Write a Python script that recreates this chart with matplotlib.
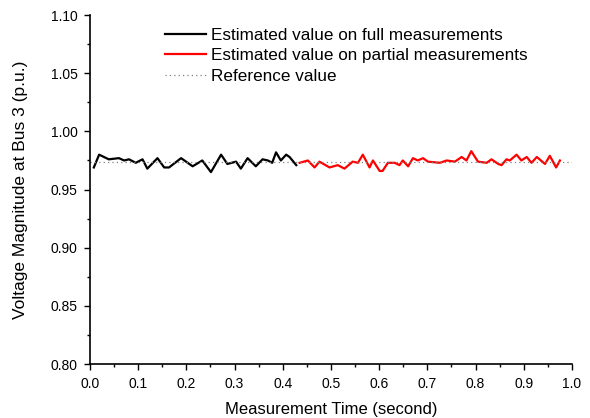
import matplotlib
matplotlib.use("Agg")
import matplotlib.pyplot as plt
from matplotlib.ticker import MultipleLocator, FormatStrFormatter

plt.rcParams["font.family"] = ["Liberation Sans", "DejaVu Sans"]

# estimated on full measurements
t_full = [0.008, 0.019, 0.039, 0.060, 0.071, 0.081, 0.095, 0.109, 0.119, 0.140,
          0.154, 0.164, 0.189, 0.213, 0.233, 0.251, 0.272, 0.285, 0.303, 0.313,
          0.327, 0.344, 0.358, 0.369, 0.378, 0.386, 0.396, 0.407, 0.414, 0.428]
v_full = [0.969, 0.980, 0.976, 0.977, 0.975, 0.976, 0.973, 0.976, 0.968, 0.977,
          0.969, 0.969, 0.977, 0.970, 0.975, 0.965, 0.980, 0.972, 0.974, 0.968,
          0.977, 0.970, 0.976, 0.975, 0.973, 0.982, 0.975, 0.980, 0.978, 0.971]

# estimated on partial measurements
t_part = [0.435, 0.452, 0.466, 0.476, 0.497, 0.514, 0.528, 0.545, 0.556, 0.566,
          0.580, 0.587, 0.601, 0.607, 0.618, 0.632, 0.642, 0.649, 0.660, 0.670,
          0.680, 0.691, 0.701, 0.726, 0.740, 0.757, 0.771, 0.781, 0.791, 0.805,
          0.823, 0.833, 0.847, 0.854, 0.864, 0.871, 0.885, 0.895, 0.906, 0.916,
          0.927, 0.944, 0.954, 0.967, 0.975]
v_part = [0.973, 0.975, 0.969, 0.974, 0.969, 0.971, 0.968, 0.974, 0.973, 0.980,
          0.969, 0.975, 0.966, 0.966, 0.973, 0.973, 0.971, 0.975, 0.970, 0.977,
          0.975, 0.977, 0.974, 0.973, 0.975, 0.974, 0.978, 0.975, 0.983, 0.974,
          0.973, 0.976, 0.972, 0.971, 0.976, 0.975, 0.980, 0.975, 0.978, 0.973,
          0.978, 0.972, 0.979, 0.969, 0.975]

t_ref = [0.0, 1.0]
v_ref = [0.974, 0.974]

fig = plt.figure(figsize=(5.9, 4.18), dpi=100)
ax = fig.add_axes([0.1525, 0.129, 0.817, 0.835])

ax.plot(t_full, v_full, color="black", lw=1.6, label="Estimated value on full measurements")
ax.plot(t_part, v_part, color="red", lw=1.6, label="Estimated value on partial measurements")
ax.plot(t_ref, v_ref, color="grey", lw=0.9, ls=(0, (1, 2.5)), label="Reference value")

ax.set_xlim(0, 1.0)
ax.set_ylim(0.80, 1.10)
ax.xaxis.set_major_locator(MultipleLocator(0.1))
ax.xaxis.set_minor_locator(MultipleLocator(0.05))
ax.yaxis.set_major_locator(MultipleLocator(0.05))
ax.yaxis.set_minor_locator(MultipleLocator(0.025))
ax.xaxis.set_major_formatter(FormatStrFormatter("%.1f"))
ax.yaxis.set_major_formatter(FormatStrFormatter("%.2f"))
ax.tick_params(which="major", length=4, width=1, labelsize=10, direction="out", pad=5)
ax.tick_params(which="minor", length=2.5, width=1, direction="out")

for side in ("top", "right"):
    ax.spines[side].set_visible(False)
for side in ("left", "bottom"):
    ax.spines[side].set_linewidth(1.2)

ax.set_xlabel("Measurement Time (second)", fontsize=12, labelpad=8)
ax.set_ylabel("Voltage Magnitude at Bus 3 (p.u.)", fontsize=12.5, labelpad=16)

ax.legend(loc="upper left", bbox_to_anchor=(0.156, 0.964), frameon=False,
          fontsize=12.3, handlelength=2.4, handletextpad=0.3, labelspacing=0.32,
          borderpad=0, borderaxespad=0)

fig.savefig("out.png", dpi=100)
